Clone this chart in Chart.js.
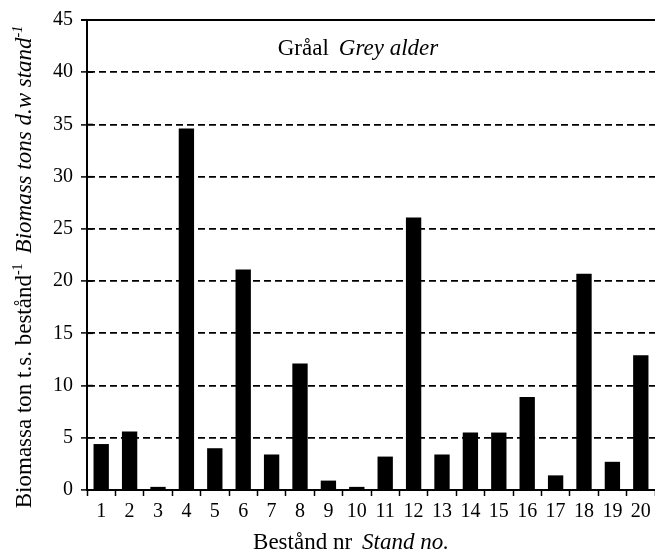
<!DOCTYPE html>
<html>
<head>
<meta charset="utf-8">
<script src="https://cdn.jsdelivr.net/npm/chart.js@4.4.0/dist/chart.umd.min.js"></script>
<style>
  html, body { margin: 0; padding: 0; background: #fff; }
  #wrap { width: 655px; height: 559px; position: relative; }
</style>
</head>
<body>
<div id="wrap"><canvas id="myChart"></canvas></div>
<script>
// data
const stands = ["1","2","3","4","5","6","7","8","9","10","11","12","13","14","15","16","17","18","19","20"];
const biomass = [4.4, 5.6, 0.3, 34.6, 4.0, 21.1, 3.4, 12.1, 0.9, 0.3, 3.2, 26.1, 3.4, 5.5, 5.5, 8.9, 1.4, 20.7, 2.7, 12.9];
const yTicks = [0, 5, 10, 15, 20, 25, 30, 35, 40, 45];

const FONT = "'Liberation Serif', 'DejaVu Serif', serif";

// draws a line of text made of pieces (normal / italic / superscript)
function drawPieces(ctx, pieces, x, y, align) {
  let total = 0;
  pieces.forEach(p => {
    ctx.font = (p.italic ? 'italic ' : '') + (p.sup ? '14px ' : '23px ') + FONT;
    p.w = ctx.measureText(p.text).width;
    total += p.w + (p.gap || 0);
  });
  let cx = align === 'center' ? x - total / 2 : x;
  ctx.textAlign = 'left';
  ctx.textBaseline = 'alphabetic';
  pieces.forEach(p => {
    cx += (p.gap || 0);
    ctx.font = (p.italic ? 'italic ' : '') + (p.sup ? '14px ' : '23px ') + FONT;
    ctx.fillText(p.text, cx, p.sup ? y - 9 : y);
    cx += p.w;
  });
}

const textPlugin = {
  id: 'texts',
  afterDraw(chart) {
    const ctx = chart.ctx;
    const area = chart.chartArea;
    const y = chart.scales.y;
    ctx.save();
    ctx.fillStyle = '#000';
    ctx.strokeStyle = '#000';

    // solid top frame line
    ctx.lineWidth = 2;
    ctx.beginPath();
    ctx.moveTo(area.left - 6, area.top);
    ctx.lineTo(area.right, area.top);
    ctx.stroke();

    // inner half of the y ticks
    ctx.lineWidth = 1.5;
    yTicks.forEach(v => {
      const py = y.getPixelForValue(v);
      ctx.beginPath();
      ctx.moveTo(area.left, py);
      ctx.lineTo(area.left + 6, py);
      ctx.stroke();
    });

    // title inside the plot
    drawPieces(ctx, [
      {text: 'Gråal'},
      {text: 'Grey alder', italic: true, gap: 10}
    ], 358, 55, 'center');

    // x axis title
    drawPieces(ctx, [
      {text: 'Bestånd nr'},
      {text: 'Stand no.', italic: true, gap: 10}
    ], 351, 549, 'center');

    // y axis title, rotated
    ctx.translate(31, 267);
    ctx.rotate(-Math.PI / 2);
    drawPieces(ctx, [
      {text: 'Biomassa ton t.s. bestånd'},
      {text: '-1', sup: true},
      {text: 'Biomass tons d.w stand', italic: true, gap: 10},
      {text: '-1', italic: true, sup: true}
    ], 0, 0, 'center');
    ctx.restore();
  }
};

var ctx = document.getElementById("myChart").getContext('2d');

var myChart = new Chart(ctx, {
  type: 'bar',
  data: {
    labels: stands,
    datasets: [{
      label: 'Biomass',
      data: biomass,
      backgroundColor: '#000',
      borderWidth: 0,
      barPercentage: 0.54,
      categoryPercentage: 1.0
    }]
  },
  options: {
    responsive: true,
    maintainAspectRatio: false,
    animation: false,
    layout: { padding: { top: 19, left: 0, right: 0, bottom: 0 } },
    plugins: {
      legend: { display: false },
      tooltip: { enabled: false }
    },
    scales: {
      x: {
        offset: true,
        grid: {
          offset: true,
          drawOnChartArea: false,
          drawTicks: true,
          tickLength: 6,
          tickColor: '#000',
          tickWidth: 1.5
        },
        border: { display: true, color: '#000', width: 2 },
        ticks: {
          color: '#000',
          font: { family: FONT, size: 20 },
          padding: 4,
          maxRotation: 0,
          autoSkip: false
        },
        afterFit(scale) { scale.height = 69; }
      },
      y: {
        min: 0,
        max: 45,
        grid: {
          color: ctx => (ctx.tick && (ctx.tick.value === 0 || ctx.tick.value === 45)) ? 'rgba(0,0,0,0)' : '#000',
          lineWidth: 1.8,
          drawTicks: true,
          tickLength: 6,
          tickColor: '#000',
          tickWidth: 1.5
        },
        border: { display: true, color: '#000', width: 2, dash: [7, 4] },
        ticks: {
          stepSize: 5,
          color: '#000',
          font: { family: FONT, size: 20 },
          padding: 8
        },
        afterFit(scale) { scale.width = 87; }
      }
    }
  },
  plugins: [textPlugin]
});
</script>
</body>
</html>
